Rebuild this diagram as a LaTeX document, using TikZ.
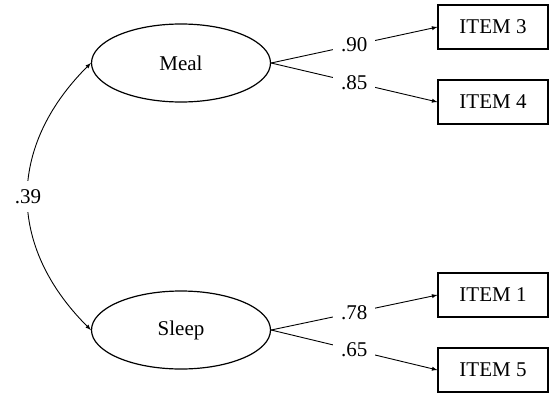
\documentclass[tikz,border=0pt]{standalone}
\usepackage{fontspec}
\setmainfont{Liberation Serif}
\usetikzlibrary{arrows,shapes.geometric}
\tikzset{
  LatentShp/.style={draw,ellipse,line width=1.2pt,minimum width=179pt,minimum height=78pt,inner sep=0pt},
  ItemShp/.style={draw,rectangle,line width=1.1pt,minimum width=110pt,minimum height=44pt,inner sep=0pt},
  LoadLbl/.style={fill=white,inner xsep=8pt,inner ysep=3pt,midway},
  PathLn/.style={line width=0.9pt,-latex}
}

\begin{document}
\begin{tikzpicture}[x=1pt,y=-1pt,font=\fontsize{21}{25}\selectfont]
\useasboundingbox (0,0) rectangle (551,394);

% Latent factors.
\node[LatentShp] (Meal) at (181,63) {Meal};
\node[LatentShp] (Sleep) at (181,330) {Sleep};

% Observed items.
\node[ItemShp] (Item3) at (493,27) {ITEM 3};
\node[ItemShp] (Item4) at (493,102) {ITEM 4};
\node[ItemShp] (Item1) at (493,295) {ITEM 1};
\node[ItemShp] (Item5) at (493,370) {ITEM 5};

% Draw loadings.
\draw[PathLn] (Meal.east) -- (Item3.west) node[LoadLbl] {.90};
\draw[PathLn] (Meal.east) -- (Item4.west) node[LoadLbl] {.85};
\draw[PathLn] (Sleep.east) -- (Item1.west) node[LoadLbl] {.78};
\draw[PathLn] (Sleep.east) -- (Item5.west) node[LoadLbl] {.65};

% Draw covariance.
\draw[line width=0.9pt,latex-latex] (Meal.west) to[out=225,in=135,looseness=1.14]
  node[midway,fill=white,inner sep=8pt] {.39} (Sleep.west);

\end{tikzpicture}
\end{document}
